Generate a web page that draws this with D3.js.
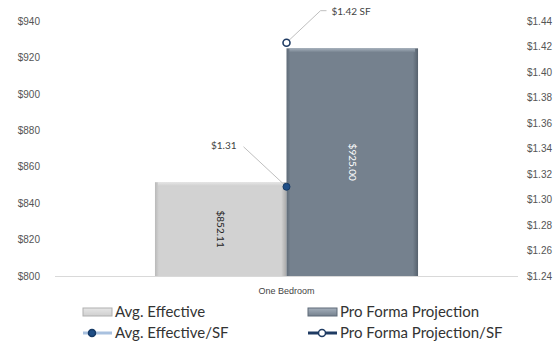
<!DOCTYPE html>
<html><head><meta charset="utf-8">
<script src="https://cdn.jsdelivr.net/npm/d3@7"></script>
<style>
body{margin:0;background:#fff;}
svg{display:block;font-family:Lato, "Open Sans", sans-serif;}
</style></head>
<body><svg id="c" width="558" height="350"></svg>
<script>
const categories = ["One Bedroom"];
const barSeries = ["Avg. Effective", "Pro Forma Projection"];
const barValues = [851.5, 925.00];
const barLabels = ["$852.11", "$925.00"];
const lineSeries = ["Avg. Effective/SF", "Pro Forma Projection/SF"];
const lineValues = [1.31, 1.423];
const lineLabels = ["$1.31", "$1.42 SF"];
const leftTicks = [800, 820, 840, 860, 880, 900, 920, 940];
const rightTicks = [1.24, 1.26, 1.28, 1.30, 1.32, 1.34, 1.36, 1.38, 1.40, 1.42, 1.44];

const svg = d3.select("#c");
const L = 55, R = 518, T = 21, B = 276;
const y = d3.scaleLinear().domain([800, 940]).range([B, T]);
const y2 = d3.scaleLinear().domain([1.24, 1.44]).range([B, T]);
const x = d3.scaleBand().domain(categories).range([L, R]).paddingOuter(0.38).paddingInner(0);
const xs = d3.scaleBand().domain(barSeries).range([0, x.bandwidth()]);

const defs = svg.append("defs");
function grad(id, stops, vertical) {
  const g = defs.append("linearGradient").attr("id", id)
    .attr("x1", 0).attr("y1", 0).attr("x2", vertical ? 0 : 1).attr("y2", vertical ? 1 : 0);
  stops.forEach(s => g.append("stop").attr("offset", s[0]).attr("stop-color", s[1]));
}
grad("g0h", [[0, "#b9b9b9"], [0.03, "#d2d2d2"], [0.96, "#d2d2d2"], [1, "#a8a8a8"]], false);
grad("g1h", [[0, "#5f6b78"], [0.03, "#75818e"], [0.96, "#75818e"], [1, "#56616d"]], false);
grad("g0v", [[0, "#e6e6e6"], [1, "#cfcfcf"]], true);
grad("g1v", [[0, "#a5b0bc"], [1, "#75818e"]], true);

// axes
const axL = d3.axisLeft(y).tickValues(leftTicks).tickFormat(d => "$" + d).tickSize(0).tickPadding(15);
const gL = svg.append("g").attr("transform", `translate(${L},0)`).call(axL);
gL.select(".domain").remove();
gL.selectAll("text").attr("font-size", 10).attr("fill", "#555");

const axR = d3.axisRight(y2).tickValues(rightTicks).tickFormat(d => "$" + d.toFixed(2)).tickSize(0).tickPadding(9);
const gR = svg.append("g").attr("transform", `translate(${R},0)`).call(axR);
gR.select(".domain").remove();
gR.selectAll("text").attr("font-size", 10).attr("fill", "#555");

// bars
const g = svg.append("g");
barSeries.forEach((s, i) => {
  const bx = x(categories[0]) + xs(s), bw = xs.bandwidth();
  const by = y(barValues[i]), bh = B - by;
  g.append("rect").attr("x", bx).attr("y", by).attr("width", bw).attr("height", bh).attr("fill", `url(#g${i}h)`);
  g.append("rect").attr("x", bx + 3).attr("y", by).attr("width", bw - 6).attr("height", 4).attr("fill", `url(#g${i}v)`);
  g.append("text").attr("transform", `translate(${bx + bw / 2},${by + bh / 2}) rotate(90)`)
    .attr("text-anchor", "middle").attr("dy", "0.35em").attr("font-size", 10)
    .attr("fill", i === 0 ? "#222" : "#fff").text(barLabels[i]);
});

// baseline
svg.append("line").attr("x1", L).attr("x2", R).attr("y1", B + 0.5).attr("y2", B + 0.5).attr("stroke", "#d9d9d9");

// category label
const gX = svg.append("g").attr("transform", `translate(0,${B})`)
  .call(d3.axisBottom(x).tickSize(0).tickPadding(12));
gX.select(".domain").remove();
gX.selectAll("text").attr("font-size", 9).attr("fill", "#444");

// line points + labels
const cx = x(categories[0]) + x.bandwidth() / 2;
const p0 = y2(lineValues[0]), p1 = y2(lineValues[1]);
svg.append("line").attr("x1", cx).attr("y1", p0).attr("x2", cx - 43).attr("y2", p0 - 40).attr("stroke", "#bfbfbf");
svg.append("text").attr("x", cx - 50).attr("y", p0 - 38).attr("text-anchor", "end").attr("font-size", 10).attr("fill", "#444").text(lineLabels[0]);
svg.append("polyline").attr("points", `${cx},${p1} ${cx + 34},${p1 - 32} ${cx + 40},${p1 - 32}`).attr("fill", "none").attr("stroke", "#bfbfbf");
svg.append("text").attr("x", cx + 45).attr("y", p1 - 28).attr("font-size", 10).attr("fill", "#444").text(lineLabels[1]);
svg.append("circle").attr("cx", cx).attr("cy", p0).attr("r", 3.5).attr("fill", "#1f4e86").attr("stroke", "#163a66");
svg.append("circle").attr("cx", cx).attr("cy", p1).attr("r", 3.5).attr("fill", "#fff").attr("stroke", "#1f3b63").attr("stroke-width", 1.6);

// legend
const lg = svg.append("g").attr("font-size", 15).attr("fill", "#333");
const lx = [83, 308], ly = [312, 333];
barSeries.forEach((s, i) => {
  lg.append("rect").attr("x", lx[i]).attr("y", ly[0] - 4).attr("width", 29).attr("height", 8)
    .attr("fill", `url(#g${i}v)`).attr("stroke", i === 0 ? "#b0b0b0" : "#5f6b78");
  lg.append("text").attr("x", lx[i] + 32).attr("y", ly[0]).attr("dy", "0.35em").text(s);
});
const lineCols = ["#a9c1df", "#1f3b63"];
lineSeries.forEach((s, i) => {
  lg.append("line").attr("x1", lx[i]).attr("x2", lx[i] + 29).attr("y1", ly[1]).attr("y2", ly[1])
    .attr("stroke", lineCols[i]).attr("stroke-width", 3);
  lg.append("circle").attr("cx", lx[i] + (i === 0 ? 9 : 14)).attr("cy", ly[1]).attr("r", 3.5)
    .attr("fill", i === 0 ? "#1f4e86" : "#fff").attr("stroke", i === 0 ? "#163a66" : "#1f3b63").attr("stroke-width", 1.5);
  lg.append("text").attr("x", lx[i] + 32).attr("y", ly[1]).attr("dy", "0.35em").text(s);
});
</script></body></html>
